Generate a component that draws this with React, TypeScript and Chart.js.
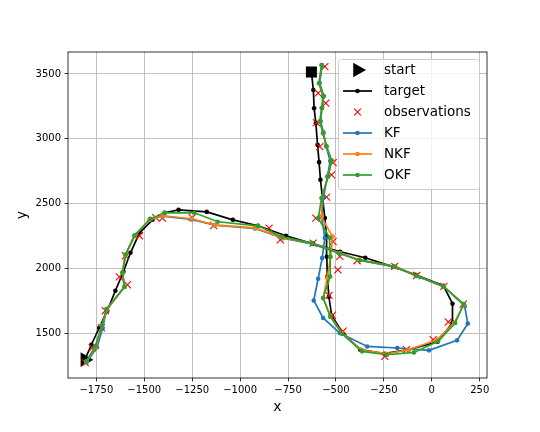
import React, { useEffect, useRef } from 'react';
import { Chart, registerables } from 'chart.js';

Chart.register(...registerables);

// ---------------- data ----------------
const startPoint = { x: -1810, y: 1300 };
const endPoint = { x: -628, y: 3515 };

const targetX = [-1810, -1776, -1735, -1693, -1651, -1609, -1572, -1525, -1457, -1394, -1321, -1174, -1038, -907, -761, -619, -478, -347, -201, -85, 61, 108, 108, 30, -122, -248, -373, -462, -522, -537, -545, -548, -549, -558, -570, -581, -588, -596, -605, -614, -618, -628];
const targetY = [1300, 1415, 1546, 1677, 1831, 1977, 2123, 2277, 2377, 2431, 2454, 2438, 2377, 2331, 2254, 2192, 2131, 2085, 2015, 1954, 1869, 1731, 1585, 1438, 1377, 1346, 1377, 1500, 1638, 1785, 1938, 2092, 2246, 2390, 2544, 2685, 2821, 2954, 3123, 3236, 3377, 3515];

const obsX = [-1808, -1771, -1724, -1703, -1588, -1630, -1598, -1525, -1440, -1405, -1250, -1138, -849, -790, -619, -480, -390, -193, -79, 63, 164, 86, 7, -132, -245, -463, -518, -536, -490, -515, -605, -549, -523, -515, -584, -602, -553, -593, -558];
const obsY = [1277, 1392, 1546, 1677, 1877, 1938, 2100, 2254, 2394, 2390, 2394, 2333, 2313, 2223, 2198, 2095, 2062, 2018, 1948, 1864, 1728, 1590, 1454, 1377, 1325, 1519, 1642, 1795, 1992, 2210, 2390, 2552, 2723, 2818, 2941, 3125, 3275, 3352, 3556];

const kfX = [-1800, -1747, -1717, -1698, -1603, -1614, -1598, -1550, -1470, -1405, -1253, -1133, -923, -776, -626, -478, -380, -195, -80, 63, 171, 188, 132, -15, -180, -337, -480, -567, -616, -593, -572, -558, -575, -565, -545, -530, -552, -565, -580, -572, -563, -585, -572];
const kfY = [1282, 1395, 1544, 1680, 1860, 1969, 2108, 2258, 2380, 2405, 2380, 2335, 2310, 2235, 2192, 2118, 2066, 2015, 1944, 1862, 1715, 1578, 1449, 1372, 1390, 1402, 1505, 1621, 1756, 1923, 2082, 2236, 2402, 2550, 2710, 2830, 2945, 3050, 3135, 3240, 3330, 3430, 3565];

const nkfX = [-1803, -1752, -1722, -1696, -1603, -1614, -1598, -1550, -1473, -1405, -1253, -1133, -923, -776, -626, -478, -382, -195, -80, 63, 168, 115, 28, -120, -234, -364, -469, -530, -567, -546, -528, -518, -575, -575, -541, -523, -549, -567, -584, -574, -567, -588, -575];
const nkfY = [1285, 1400, 1562, 1685, 1862, 1969, 2108, 2254, 2377, 2408, 2385, 2338, 2315, 2238, 2198, 2121, 2069, 2018, 1946, 1864, 1723, 1582, 1454, 1377, 1346, 1372, 1505, 1638, 1775, 1928, 2090, 2248, 2398, 2544, 2710, 2833, 2941, 3044, 3133, 3238, 3325, 3428, 3569];

const okfX = [-1803, -1755, -1722, -1698, -1603, -1614, -1598, -1551, -1468, -1394, -1238, -1117, -907, -781, -626, -480, -375, -193, -80, 60, 166, 122, 33, -93, -234, -364, -469, -530, -567, -530, -530, -534, -592, -575, -541, -523, -549, -567, -584, -574, -567, -588, -575];
const okfY = [1285, 1405, 1562, 1690, 1862, 1969, 2108, 2254, 2385, 2431, 2431, 2362, 2331, 2246, 2198, 2118, 2066, 2018, 1946, 1864, 1728, 1582, 1441, 1356, 1338, 1364, 1500, 1633, 1775, 1941, 2095, 2241, 2390, 2544, 2710, 2833, 2941, 3044, 3133, 3238, 3325, 3428, 3569];

const xTicks = [-1750, -1500, -1250, -1000, -750, -500, -250, 0, 250];
const yTicks = [1500, 2000, 2500, 3000, 3500];
const legendLabels = ['start', 'target', 'observations', 'KF', 'NKF', 'OKF'];

const colTarget = '#000000';
const colObs = '#ff0000';
const colKF = '#1f77b4';
const colNKF = '#ff7f0e';
const colOKF = '#2ca02c';

const pts = (xs: number[], ys: number[]) => xs.map((x, i) => ({ x, y: ys[i] }));
const fmt = (v: number) => (v < 0 ? '\u2212' + Math.abs(v) : String(v));

const FONT = "'DejaVu Sans', sans-serif";
const LINE_W = 1.7;
const DOT_R = 2.3;

const frameLegendPlugin = {
  id: 'frameLegend',
  afterDraw(chart: any) {
    const { ctx, chartArea: a } = chart;
    ctx.save();
    // full axes frame
    ctx.strokeStyle = '#000';
    ctx.lineWidth = 0.8;
    ctx.strokeRect(a.left, a.top, a.right - a.left, a.bottom - a.top);

    // legend box
    const bw = 141, bh = 130;
    const bx = a.right - 8 - bw + 0.5;
    const by = a.top + 7.5;
    const r = 3;
    ctx.beginPath();
    ctx.moveTo(bx + r, by);
    ctx.lineTo(bx + bw - r, by);
    ctx.quadraticCurveTo(bx + bw, by, bx + bw, by + r);
    ctx.lineTo(bx + bw, by + bh - r);
    ctx.quadraticCurveTo(bx + bw, by + bh, bx + bw - r, by + bh);
    ctx.lineTo(bx + r, by + bh);
    ctx.quadraticCurveTo(bx, by + bh, bx, by + bh - r);
    ctx.lineTo(bx, by + r);
    ctx.quadraticCurveTo(bx, by, bx + r, by);
    ctx.closePath();
    ctx.fillStyle = 'rgba(255,255,255,0.8)';
    ctx.fill();
    ctx.strokeStyle = '#cccccc';
    ctx.lineWidth = 1;
    ctx.stroke();

    const x0 = bx + 4.5, x1 = bx + 33.5, xm = (x0 + x1) / 2;
    const textX = bx + 45.5;
    const rowY = (i: number) => by + 10.5 + i * 21;
    const colors = [colTarget, colTarget, colObs, colKF, colNKF, colOKF];

    legendLabels.forEach((label, i) => {
      const y = rowY(i);
      if (i === 0) {
        const rr = 8.5;
        ctx.beginPath();
        ctx.moveTo(xm + rr, y);
        ctx.lineTo(xm - rr / 2, y - rr * 0.866);
        ctx.lineTo(xm - rr / 2, y + rr * 0.866);
        ctx.closePath();
        ctx.fillStyle = '#000';
        ctx.fill();
      } else if (i === 2) {
        const s = 3.4;
        ctx.beginPath();
        ctx.moveTo(xm - s, y - s); ctx.lineTo(xm + s, y + s);
        ctx.moveTo(xm + s, y - s); ctx.lineTo(xm - s, y + s);
        ctx.strokeStyle = colObs;
        ctx.lineWidth = 1.1;
        ctx.stroke();
      } else {
        ctx.beginPath();
        ctx.moveTo(x0, y); ctx.lineTo(x1, y);
        ctx.strokeStyle = colors[i];
        ctx.lineWidth = LINE_W;
        ctx.stroke();
        ctx.beginPath();
        ctx.arc(xm, y, DOT_R, 0, Math.PI * 2);
        ctx.fillStyle = colors[i];
        ctx.fill();
      }
      ctx.fillStyle = '#000';
      ctx.font = `13.5px ${FONT}`;
      ctx.textBaseline = 'middle';
      ctx.textAlign = 'left';
      ctx.fillText(label, textX, y);
    });
    ctx.restore();
  },
};

export default function App() {
  const canvasRef = useRef<HTMLCanvasElement | null>(null);

  useEffect(() => {
    document.body.style.margin = '0';
    const canvas = canvasRef.current;
    if (!canvas) return;

    const lineDs = (label: string, data: any[], color: string, order: number) => ({
      label,
      data,
      showLine: true,
      borderColor: color,
      backgroundColor: color,
      borderWidth: LINE_W,
      pointRadius: DOT_R,
      pointBorderWidth: 0,
      pointBackgroundColor: color,
      tension: 0,
      order,
    });

    const chart = new Chart(canvas, {
      type: 'scatter',
      data: {
        datasets: [
          {
            label: 'start',
            data: [startPoint],
            pointStyle: 'triangle',
            rotation: 90,
            pointRadius: 8.5,
            pointBackgroundColor: '#000',
            pointBorderWidth: 0,
            borderColor: '#000',
            backgroundColor: '#000',
            order: 10,
          } as any,
          {
            label: 'end',
            data: [endPoint],
            pointStyle: 'rect',
            pointRadius: 7.8,
            pointBackgroundColor: '#000',
            pointBorderWidth: 0,
            borderColor: '#000',
            backgroundColor: '#000',
            order: 9,
          } as any,
          lineDs('target', pts(targetX, targetY), colTarget, 8),
          {
            label: 'observations',
            data: pts(obsX, obsY),
            showLine: false,
            pointStyle: 'crossRot',
            pointRadius: 5,
            pointBorderColor: colObs,
            borderColor: colObs,
            backgroundColor: colObs,
            pointBorderWidth: 1.1,
            order: 7,
          } as any,
          lineDs('KF', pts(kfX, kfY), colKF, 6),
          lineDs('NKF', pts(nkfX, nkfY), colNKF, 5),
          lineDs('OKF', pts(okfX, okfY), colOKF, 4),
        ],
      },
      options: {
        responsive: false,
        animation: false,
        devicePixelRatio: 1,
        events: [],
        layout: { padding: { left: 0, right: 53, top: 52, bottom: 0 } },
        plugins: {
          legend: { display: false },
          tooltip: { enabled: false },
          title: { display: false },
        },
        scales: {
          x: {
            type: 'linear',
            min: -1898,
            max: 288,
            afterBuildTicks: (scale: any) => {
              scale.ticks = xTicks.map((v) => ({ value: v }));
            },
            afterFit: (scale: any) => {
              scale.height = 54;
            },
            ticks: {
              callback: (v: any) => fmt(Number(v)),
              color: '#000',
              font: { family: FONT, size: 10 },
              padding: 3,
              maxRotation: 0,
              autoSkip: false,
            },
            grid: {
              color: '#b0b0b0',
              lineWidth: 0.8,
              drawTicks: true,
              tickLength: 3.5,
              tickColor: '#000',
              tickWidth: 0.8,
            },
            border: { display: false },
            title: {
              display: true,
              text: 'x',
              color: '#000',
              font: { family: FONT, size: 14 },
              padding: { top: 0, bottom: 16 },
            },
          },
          y: {
            type: 'linear',
            min: 1159,
            max: 3669,
            afterBuildTicks: (scale: any) => {
              scale.ticks = yTicks.map((v) => ({ value: v }));
            },
            afterFit: (scale: any) => {
              scale.width = 68;
            },
            ticks: {
              callback: (v: any) => fmt(Number(v)),
              color: '#000',
              font: { family: FONT, size: 10 },
              padding: 3.5,
              autoSkip: false,
            },
            grid: {
              color: '#b0b0b0',
              lineWidth: 0.8,
              drawTicks: true,
              tickLength: 3.5,
              tickColor: '#000',
              tickWidth: 0.8,
            },
            border: { display: false },
            title: {
              display: true,
              text: 'y',
              color: '#000',
              font: { family: FONT, size: 14 },
              padding: { top: 14, bottom: 0 },
            },
          },
        },
      },
      plugins: [frameLegendPlugin],
    } as any);

    return () => {
      chart.destroy();
    };
  }, []);

  return (
    <div style={{ position: 'fixed', left: 0, top: 0, width: 540, height: 432, background: '#fff' }}>
      <canvas ref={canvasRef} width={540} height={432} style={{ width: 540, height: 432, display: 'block' }} />
    </div>
  );
}
